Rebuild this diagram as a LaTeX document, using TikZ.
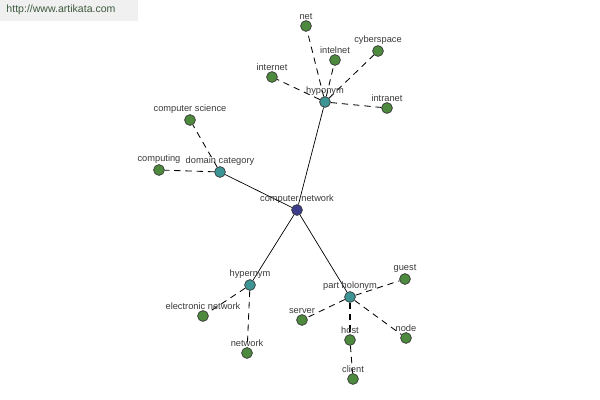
\documentclass[tikz,border=0pt]{standalone}
\usepackage{fontspec}
\setmainfont{Liberation Sans}
\usepackage{tikz}
\usetikzlibrary{backgrounds}
\definecolor{leafgreen}{HTML}{4E8A3E}
\definecolor{reltealc}{HTML}{3D9494}
\definecolor{rootblue}{HTML}{3C3C8C}
\definecolor{labelgray}{HTML}{3A3A3A}
\definecolor{markgreen}{HTML}{3E5A3E}
\tikzstyle{node}=[draw=black!80,circle,fill=leafgreen,inner sep=0pt,minimum
size=.27cm,line width=.5pt]

\begin{document}
\begin{tikzpicture}[x=.025cm,y=-.025cm,every
    label/.style={font=\fontsize{6.6}{7}\selectfont,text=labelgray,inner sep=.5pt},
    label distance=0pt]
    \tikzstyle{rel}=[node, fill=reltealc]
    \tikzstyle{root}=[node, fill=rootblue]
    \tikzstyle{sub}=[line width=.5pt, black]
    \tikzstyle{dsh}=[line width=.6pt, black, dash pattern=on 4.5pt off 3.5pt]

    \useasboundingbox (0,0) rectangle (600,400);
    \fill[gray!12] (0,0) rectangle (138,21);
    \node[text=markgreen,font=\fontsize{7.5}{8}\selectfont] at (61,10) (mark)
    {http://www.artikata.com};

    % center and relations
    \node[root, label=above:computer network] at (297,210) (cn) {};
    \node[rel, label=above:hyponym] at (325,102) (hypo) {};
    \node[rel, label=above:domain category] at (220,172) (dom) {};
    \node[rel, label=above:hypernym] at (250,285) (hyper) {};
    \node[rel, label=above:part holonym] at (350,297) (part) {};

    % hyponyms
    \node[node, label=above:net] at (306,26) (net) {};
    \node[node, label=above:intelnet] at (335,60) (intelnet) {};
    \node[node, label=above:cyberspace] at (378,51) (cyber) {};
    \node[node, label=above:internet] at (272,77) (internet) {};
    \node[node, label=above:intranet] at (387,108) (intranet) {};

    % domain
    \node[node, label=above:computer science] at (190,120) (cs) {};
    \node[node, label=above:computing] at (159,170) (comp) {};

    % hypernyms
    \node[node, label=above:electronic network] at (203,316) (enet) {};
    \node[node, label=above:network] at (247,353) (network) {};

    % part holonyms
    \node[node, label=above:guest] at (405,279) (guest) {};
    \node[node, label=above:server] at (302,320) (server) {};
    \node[node, label=above:node] at (406,338) (nd) {};
    \node[node, label=above:host] at (350,340) (host) {};
    \node[node, label=above:client] at (353,379) (client) {};

    \begin{scope}[on background layer]
    \draw[sub] (cn) -- (hypo);
    \draw[sub] (cn) -- (dom);
    \draw[sub] (cn) -- (hyper);
    \draw[sub] (cn) -- (part);
    \foreach \x in {net,intelnet,cyber,internet,intranet}
      \draw[dsh] (hypo) -- (\x);
    \foreach \x in {cs,comp}
      \draw[dsh] (dom) -- (\x);
    \foreach \x in {enet,network}
      \draw[dsh] (hyper) -- (\x);
    \foreach \x in {guest,server,nd}
      \draw[dsh] (part) -- (\x);
    \draw[dsh, line width=1.1pt] (part) -- (host);
    \draw[dsh] (host) -- (client);
    \end{scope}
  \end{tikzpicture}
\end{document}
